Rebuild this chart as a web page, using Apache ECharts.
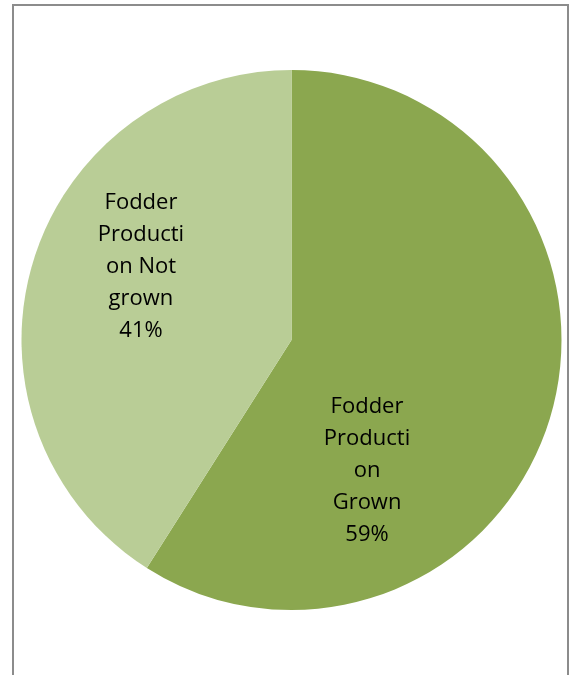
<!DOCTYPE html>
<html><head><meta charset="utf-8">
<script src="https://cdn.jsdelivr.net/npm/echarts@6/dist/echarts.min.js"></script>
<style>html,body{margin:0;padding:0;background:#fff}#c{width:570px;height:675px}</style>
</head><body><div id="c"></div>
<script>
const categories = ["Fodder\nProducti\non\nGrown", "Fodder\nProducti\non Not\ngrown"];
const values = [59, 41];
const colors = ["#8BA74F", "#B9CD96"];
const labelShift = [[-57, 92], [-18, -35]];

const chart = echarts.init(document.getElementById('c'), null, {renderer: 'canvas'});
chart.setOption({
  animation: false,
  backgroundColor: '#fff',
  graphic: [
    {type: 'polyline', shape: {points: [[13, 680], [13, 5], [568, 5], [568, 680]]},
     style: {stroke: '#8c8c8c', lineWidth: 2, fill: null}}
  ],
  series: [{
    type: 'pie',
    center: [291.5, 340],
    radius: [0, 270],
    startAngle: 90,
    clockwise: true,
    silent: true,
    label: {
      show: true, position: 'inside',
      fontFamily: 'Open Sans', fontSize: 22, lineHeight: 32, color: '#000',
      formatter: p => p.name + '\n' + p.value + '%'
    },
    labelLine: {show: false},
    labelLayout: p => ({dx: labelShift[p.dataIndex][0], dy: labelShift[p.dataIndex][1]}),
    itemStyle: {borderWidth: 0},
    emphasis: {disabled: true},
    data: categories.map((n, i) => ({name: n, value: values[i], itemStyle: {color: colors[i]}}))
  }]
});
</script></body></html>
